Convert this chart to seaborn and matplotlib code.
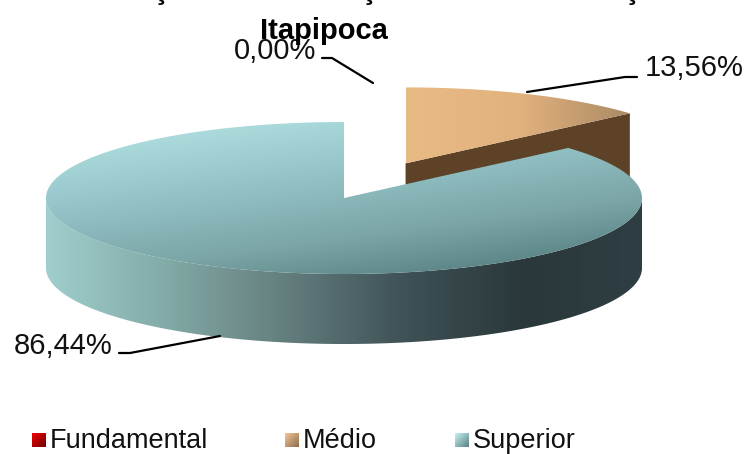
import numpy as np
import matplotlib
matplotlib.use('Agg')
import matplotlib.pyplot as plt
import seaborn as sns
from matplotlib.patches import Polygon

categories = ['Fundamental', 'Médio', 'Superior']
shares = [0.00, 13.56, 86.44]
title_line = 'Itapipoca'

sns.set_theme(style='white')
plt.rcParams['font.family'] = ['Liberation Sans', 'DejaVu Sans']

CX, CY = 344, 198
RX, RY = 298, 76
DEPTH = 70
START = 90.0
EXPLODE = 0.5

superior_top = sns.blend_palette(['#b8e6e6', '#98c8cc', '#7ca6a8', '#4c7476'], as_cmap=True)
superior_side = sns.blend_palette(['#a0cecc', '#82aaa6', '#647e7e', '#3f5256', '#2a383b', '#2e3e42'], as_cmap=True)
medio_top = sns.blend_palette(['#e8ba84', '#e2b27e', '#ab8a64'], as_cmap=True)
MEDIO_DARK = '#5e4228'


def arc(t0, t1, cx=CX, cy=CY, dy=0):
    t = np.radians(np.linspace(t0, t1, 300))
    return np.column_stack([cx + RX * np.cos(t), cy - RY * np.sin(t) + dy])


def fill_gradient(ax, verts, cmap, gx=1.0, gy=0.0):
    poly = Polygon(verts, closed=True, facecolor='none', edgecolor='none')
    ax.add_patch(poly)
    x0, y0 = verts.min(axis=0)
    x1, y1 = verts.max(axis=0)
    xx, yy = np.meshgrid(np.linspace(0, 1, 300), np.linspace(0, 1, 300))
    img = ax.imshow(gx * xx + gy * yy, extent=(x0, x1, y1, y0), cmap=cmap,
                    vmin=0, vmax=1, aspect='auto', zorder=2)
    img.set_clip_path(poly)


def swatch(ax, x, y, cmap):
    s = 14
    verts = np.array([[x, y], [x + s, y], [x + s, y + s], [x, y + s]], dtype=float)
    fill_gradient(ax, verts, cmap, 0.5, 0.5)


fig = plt.figure(figsize=(7.44, 4.54), dpi=100)
ax = fig.add_axes([0, 0, 1, 1])

# angles run counter-clockwise from the top: Fundamental, Superior, Medio
sweep_sup = shares[2] * 3.6
sweep_med = shares[1] * 3.6
a_sup_end = START + sweep_sup
a_med_start = a_sup_end - 360
mid = np.radians(a_med_start + sweep_med / 2)
mx = CX + EXPLODE * RX * np.cos(mid)
my = CY - EXPLODE * RY * np.sin(mid)

# exploded Medio slice, back of the pie
tip = arc(a_med_start, a_med_start, mx, my)[0]
cut = np.array([[mx, my], tip, tip + [0, DEPTH], [mx, my + DEPTH]])
ax.add_patch(Polygon(cut, closed=True, facecolor=MEDIO_DARK, edgecolor='none', zorder=1))
med_face = np.vstack([[[mx, my]], arc(a_med_start, START, mx, my)])
fill_gradient(ax, med_face, medio_top)

# Superior wall then face
wall = np.vstack([arc(180, 360), arc(360, 180, dy=DEPTH)])
fill_gradient(ax, wall, superior_side)
sup_face = np.vstack([[[CX, CY]], arc(START, a_sup_end)])
fill_gradient(ax, sup_face, superior_top, 0.35, 0.65)

# leader lines
ax.plot([322, 332, 373], [58, 58, 83], color='black', lw=1.6, zorder=4)
ax.plot([527, 625, 637], [92, 77, 77], color='black', lw=1.6, zorder=4)
ax.plot([119, 130, 220], [353, 353, 336], color='black', lw=1.6, zorder=4)

label_kw = dict(fontsize=21, color='#111111', va='center', zorder=5)
fmt = [f'{v:.2f}'.replace('.', ',') + '%' for v in shares]
ax.text(234, 51, fmt[0], ha='left', **label_kw)
ax.text(645, 68, fmt[1], ha='left', **label_kw)
ax.text(14, 346, fmt[2], ha='left', **label_kw)

ax.text(324, 31, title_line, fontsize=21, fontweight='bold', color='black',
        ha='center', va='center', zorder=6)
# the first title line is cut off by the top edge, only descenders are left
for x in [161, 369, 632]:
    ax.text(x, -1, 'ç', fontsize=21, fontweight='bold', color='black',
            ha='center', va='baseline', zorder=6)

# legend
legend_cmaps = [sns.blend_palette(['#f00000', '#700000'], as_cmap=True),
                sns.blend_palette(['#f4c898', '#8a6c4c'], as_cmap=True),
                sns.blend_palette(['#c4f4f4', '#5a8084'], as_cmap=True)]
for name, cmap, sx in zip(categories, legend_cmaps, [32, 285, 455]):
    swatch(ax, sx, 433, cmap)
    ax.text(sx + 18, 441, name, fontsize=19.5, color='#111111',
            ha='left', va='center', zorder=5)

ax.set_xlim(0, 744)
ax.set_ylim(454, 0)
ax.axis('off')

plt.savefig('out.png', dpi=100)
